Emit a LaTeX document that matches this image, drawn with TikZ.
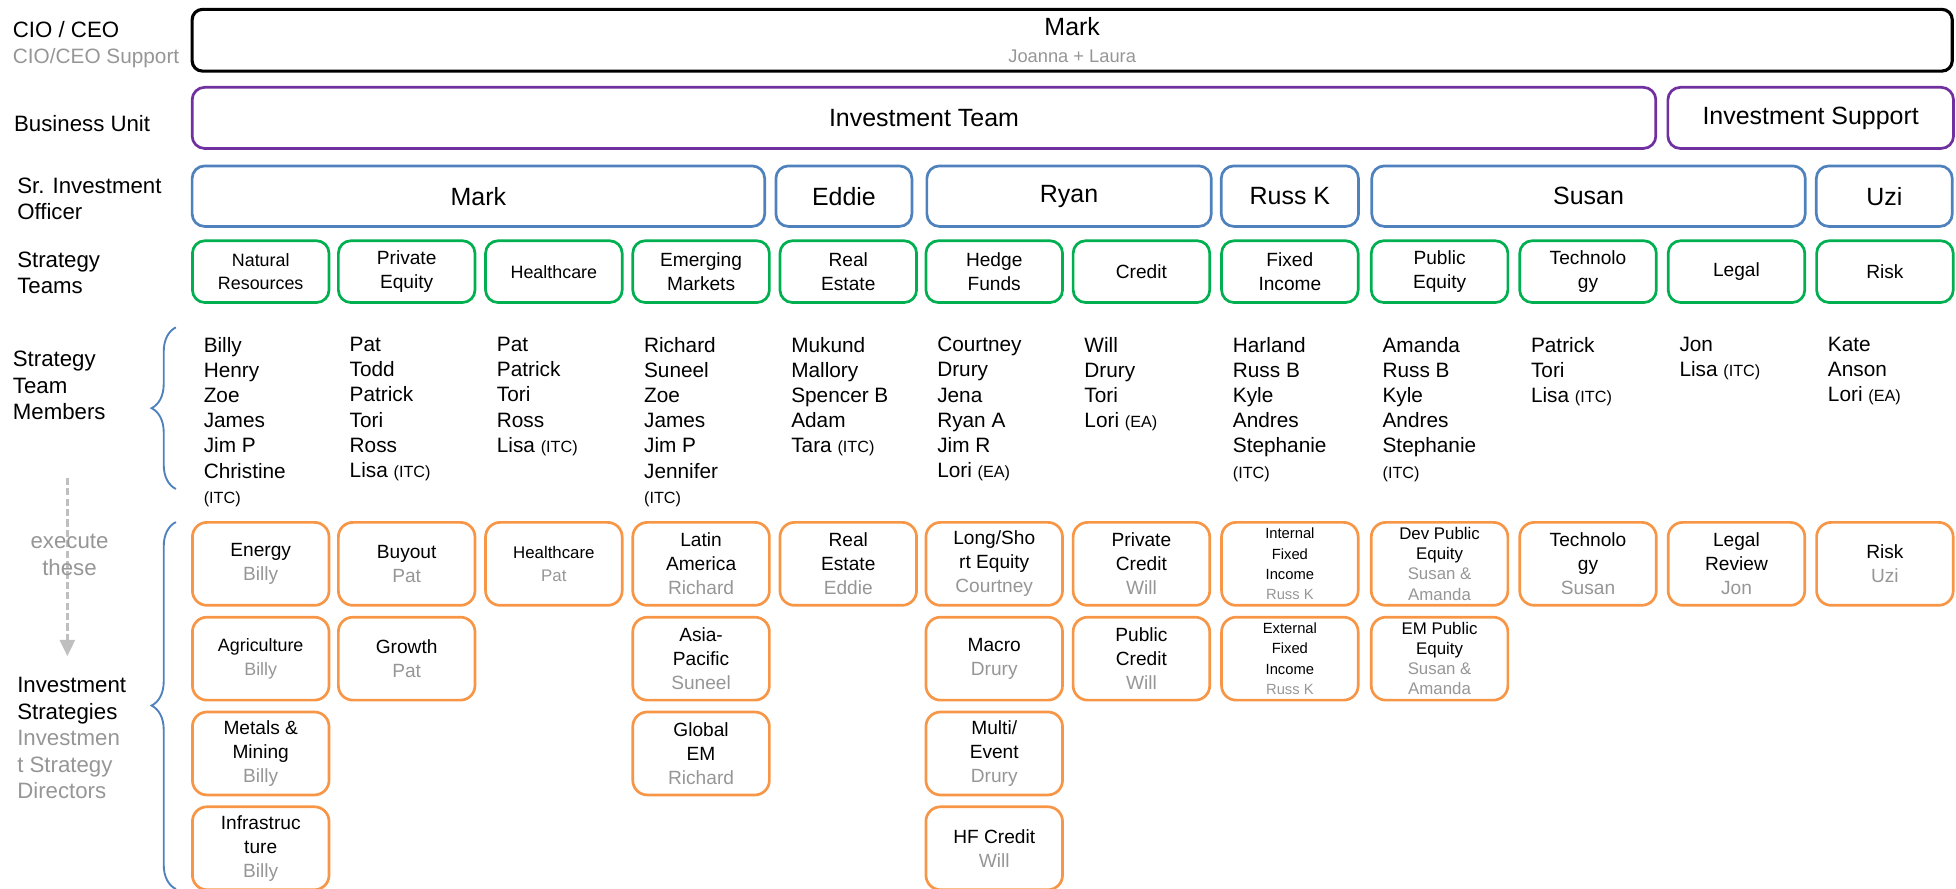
\documentclass[tikz,border=0pt]{standalone}
\usepackage{fontspec}
\setmainfont{Liberation Sans}
\usepackage{xcolor}
\usepackage{tikz}
\usetikzlibrary{
  arrows.meta,
  decorations.pathreplacing
}
\definecolor{unitpurple}{RGB}{112, 48, 160}
\definecolor{sioblue}{RGB}{79, 129, 189}
\definecolor{teamgreen}{RGB}{0, 176, 80}
\definecolor{stratorange}{RGB}{247, 150, 70}
\definecolor{leadgrey}{RGB}{150, 150, 150}
\definecolor{arrowgrey}{RGB}{191, 191, 191}
\newcommand{\lead}[1]{\textcolor{leadgrey}{#1}}
\newcommand{\tagsmall}[1]{{\fontsize{7.8}{9}\selectfont #1}}

\begin{document}
\begin{tikzpicture}[x=0.6pt,y=-0.6pt,
  rowlabel/.style={anchor=west,align=left,inner sep=0pt,font=\fontsize{10.7}{12.7}\selectfont},
  topbox/.style={draw=black,line width=1.5pt,rounded corners=5pt,align=center,minimum height=29.7pt,font=\fontsize{12}{12.9}\selectfont},
  unitbox/.style={draw=unitpurple,line width=1.3pt,rounded corners=6pt,minimum height=29.4pt,font=\fontsize{12}{14}\selectfont},
  siobox/.style={draw=sioblue,line width=1.3pt,rounded corners=6pt,minimum height=29.1pt,font=\fontsize{12}{14}\selectfont},
  teambox/.style={draw=teamgreen,line width=1.3pt,rounded corners=6pt,minimum width=65.7pt,minimum height=29.7pt,align=center,inner sep=1pt,font=\fontsize{9.2}{11.3}\selectfont},
  stratbox/.style={draw=stratorange,line width=1.3pt,rounded corners=7pt,minimum width=65.7pt,minimum height=39.9pt,align=center,inner sep=1pt,font=\fontsize{9.2}{11.5}\selectfont},
  smallstrat/.style={stratbox,font=\fontsize{8.1}{9.7}\selectfont},
  members/.style={anchor=north west,align=left,inner sep=0pt,font=\fontsize{10}{12.1}\selectfont},
  sidebrace/.style={draw=sioblue,line width=0.9pt,decorate,decoration={brace,amplitude=11.7pt}}
]
\useasboundingbox (0,0) rectangle (1568,712);
% row 1: CIO / CEO
\node[rowlabel](lblCeo) at (10,35.7){CIO / CEO\\{\color{leadgrey}\fontsize{10}{12}\selectfont CIO/CEO Support}};
\node[topbox,minimum width=846.6pt](ceo) at (859.5,32.25){Mark\\{\color{leadgrey}\fontsize{8.8}{10}\selectfont Joanna + Laura}};
% row 2: business units
\node[rowlabel](lblUnit) at (11,99.4){Business Unit};
\node[unitbox,minimum width=704pt](buTeam) at (740.7,94.5){Investment Team};
\node[unitbox,minimum width=137.4pt](buSupport) at (1451.5,94.5){Investment Support};
% row 3: senior investment officers
\node[rowlabel](lblSio) at (13.5,159.5){Sr. Investment\\Officer};
\node[siobox,minimum width=275.4pt](sioMark) at (383.5,157.25){Mark};
\node[siobox,minimum width=65.4pt](sioEddie) at (676.5,157.25){Eddie};
\node[siobox,minimum width=136.8pt](sioRyan) at (857,157.25){Ryan};
\node[siobox,minimum width=66pt](sioRuss) at (1034,157.25){Russ K};
\node[siobox,minimum width=208.5pt](sioSusan) at (1273.4,157.25){Susan};
\node[siobox,minimum width=65.4pt](sioUzi) at (1510.5,157.25){Uzi};
% row 4: strategy teams
\node[rowlabel](lblTeams) at (13.5,218.5){Strategy\\Teams};
\node[teambox,font=\fontsize{8.6}{10.7}\selectfont](tmNatRes) at (209,217.75){Natural\\Resources};
\node[teambox](tmPE) at (326,217.75){Private\\Equity};
\node[teambox,font=\fontsize{8.6}{10.7}\selectfont](tmHealth) at (444,217.75){Healthcare};
\node[teambox](tmEM) at (562,217.75){Emerging\\Markets};
\node[teambox](tmRE) at (680,217.75){Real\\Estate};
\node[teambox](tmHF) at (797,217.75){Hedge\\Funds};
\node[teambox](tmCredit) at (915,217.75){Credit};
\node[teambox](tmFI) at (1034,217.75){Fixed\\Income};
\node[teambox](tmPubEq) at (1154,217.75){Public\\Equity};
\node[teambox](tmTech) at (1273,217.75){Technolo\\gy};
\node[teambox](tmLegal) at (1392,217.75){Legal};
\node[teambox](tmRisk) at (1511,217.75){Risk};
% row 5: team members
\node[rowlabel](lblMembers) at (10,308.9){Strategy\\Team\\Members};
\coordinate (mbTop) at (141,262.4); \coordinate (mbBot) at (141,392);
\draw[sidebrace](mbBot)--(mbTop);
\node[members](mbNatRes) at (163,270){Billy\\Henry\\Zoe\\James\\Jim P\\Christine\\\tagsmall{(ITC)}};
\node[members](mbPE) at (280,270){Pat\\Todd\\Patrick\\Tori\\Ross\\Lisa \tagsmall{(ITC)}};
\node[members](mbHealth) at (398,270){Pat\\Patrick\\Tori\\Ross\\Lisa \tagsmall{(ITC)}};
\node[members](mbEM) at (516,270){Richard\\Suneel\\Zoe\\James\\Jim P\\Jennifer\\\tagsmall{(ITC)}};
\node[members](mbRE) at (634,270){Mukund\\Mallory\\Spencer B\\Adam\\Tara \tagsmall{(ITC)}};
\node[members](mbHF) at (751,270){Courtney\\Drury\\Jena\\Ryan A\\Jim R\\Lori \tagsmall{(EA)}};
\node[members](mbCredit) at (869,270){Will\\Drury\\Tori\\Lori \tagsmall{(EA)}};
\node[members](mbFI) at (988,270){Harland\\Russ B\\Kyle\\Andres\\Stephanie\\\tagsmall{(ITC)}};
\node[members](mbPubEq) at (1108,270){Amanda\\Russ B\\Kyle\\Andres\\Stephanie\\\tagsmall{(ITC)}};
\node[members](mbTech) at (1227,270){Patrick\\Tori\\Lisa \tagsmall{(ITC)}};
\node[members](mbLegal) at (1346,270){Jon\\Lisa \tagsmall{(ITC)}};
\node[members](mbRisk) at (1465,270){Kate\\Anson\\Lori \tagsmall{(EA)}};
% execute these
\coordinate (exTop) at (54,383); \coordinate (exBot) at (54,526);
\draw[arrowgrey,line width=1.3pt,dash pattern=on 3.5pt off 1.5pt,-{Triangle[width=7.2pt,length=7.8pt]}](exTop)--(exBot);
\node[align=center,inner sep=0pt,text=leadgrey,font=\fontsize{10.7}{13.1}\selectfont](exNote) at (55.7,444.7){execute\\these};
% row 6: investment strategies
\node[rowlabel](lblStrat) at (13.5,591.75){Investment\\Strategies\\\lead{Investmen}\\\lead{t Strategy}\\\lead{Directors}};
\coordinate (stTop) at (141,418.5); \coordinate (stBot) at (141,712.7);
\draw[sidebrace](stBot)--(stTop);
\node[stratbox](sEnergy) at (209,452){Energy\\\lead{Billy}};
\node[stratbox,font=\fontsize{8.6}{11.3}\selectfont](sAgri) at (209,528){Agriculture\\\lead{Billy}};
\node[stratbox](sMetals) at (209,604){Metals \&\\Mining\\\lead{Billy}};
\node[stratbox](sInfra) at (209,680){Infrastruc\\ture\\\lead{Billy}};
\node[stratbox](sBuyout) at (326,452){Buyout\\\lead{Pat}};
\node[stratbox](sGrowth) at (326,528){Growth\\\lead{Pat}};
\node[stratbox,font=\fontsize{8.1}{10.8}\selectfont](sHealth) at (444,452){Healthcare\\\lead{Pat}};
\node[stratbox](sLatAm) at (562,452){Latin\\America\\\lead{Richard}};
\node[stratbox](sAsia) at (562,528){Asia-\\Pacific\\\lead{Suneel}};
\node[stratbox](sGlobEM) at (562,604){Global\\EM\\\lead{Richard}};
\node[stratbox](sRE) at (680,452){Real\\Estate\\\lead{Eddie}};
\node[stratbox](sLongShort) at (797,452){Long/Sho\\rt Equity\\\lead{Courtney}};
\node[stratbox](sMacro) at (797,528){Macro\\\lead{Drury}};
\node[stratbox](sMulti) at (797,604){Multi/\\Event\\\lead{Drury}};
\node[stratbox](sHFCredit) at (797,680){HF Credit\\\lead{Will}};
\node[stratbox](sPrivCredit) at (915,452){Private\\Credit\\\lead{Will}};
\node[stratbox](sPubCredit) at (915,528){Public\\Credit\\\lead{Will}};
\node[smallstrat,font=\fontsize{7.1}{9.7}\selectfont](sIntFI) at (1034,452){Internal\\Fixed\\Income\\\lead{Russ K}};
\node[smallstrat,font=\fontsize{7.1}{9.7}\selectfont](sExtFI) at (1034,528){External\\Fixed\\Income\\\lead{Russ K}};
\node[smallstrat](sDevEq) at (1154,452){Dev Public\\Equity\\\lead{Susan \&}\\\lead{Amanda}};
\node[smallstrat](sEMEq) at (1154,528){EM Public\\Equity\\\lead{Susan \&}\\\lead{Amanda}};
\node[stratbox](sTech) at (1273,452){Technolo\\gy\\\lead{Susan}};
\node[stratbox](sLegal) at (1392,452){Legal\\Review\\\lead{Jon}};
\node[stratbox](sRisk) at (1511,452){Risk\\\lead{Uzi}};
\end{tikzpicture}
\end{document}
